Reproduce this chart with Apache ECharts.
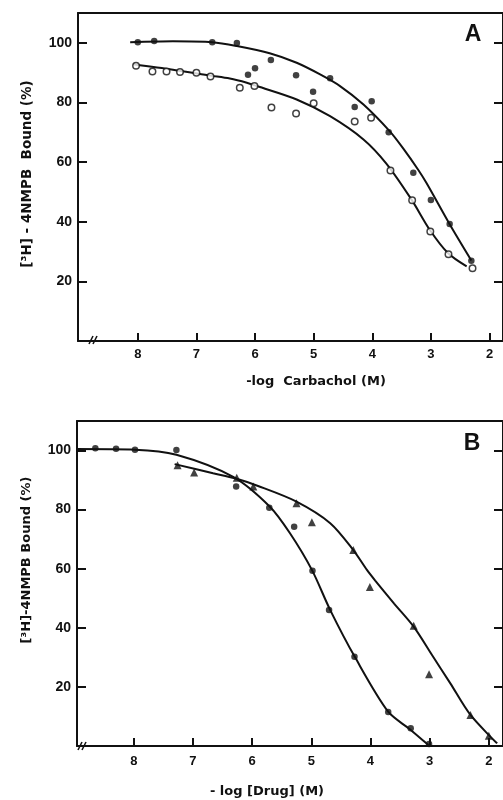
<!DOCTYPE html>
<html lang="en">
<head>
<meta charset="UTF-8">
<title>4NMPB binding</title>
<script src="https://cdn.jsdelivr.net/npm/echarts@6/dist/echarts.min.js"></script>
<style>html,body{margin:0;padding:0;background:#fff;}</style>
</head>
<body>
<div id="main" style="width:503px;height:800px;"></div>
<script>
// tick labels
var xTicks = [8, 7, 6, 5, 4, 3, 2];
var yTicks = [20, 40, 60, 80, 100];

// panel A : -log carbachol, [x, % bound]
var carbFilled = [[8.0,100.2],[7.72,100.6],[6.73,100.2],[6.31,99.9],[6.12,89.3],[6.0,91.5],[5.73,94.2],[5.30,89.1],[5.01,83.6],[4.72,88.1],[4.30,78.5],[4.01,80.4],[3.72,70.0],[3.30,56.4],[3.0,47.3],[2.68,39.2],[2.31,26.9]];
var carbOpen = [[8.03,92.3],[7.75,90.4],[7.51,90.4],[7.28,90.2],[7.0,90.0],[6.76,88.7],[6.26,84.9],[6.01,85.5],[5.72,78.3],[5.30,76.3],[5.0,79.7],[4.30,73.6],[4.02,74.9],[3.69,57.2],[3.32,47.2],[3.01,36.7],[2.70,29.1],[2.29,24.4]];
// hand drawn curves
var carbCurveFilled = [[8.13,100.2],[7.4,100.5],[6.73,100.2],[6.31,98.9],[5.75,96.5],[5.29,93.3],[4.89,89.4],[4.55,85.5],[4.15,79.3],[3.70,70.3],[3.47,64.5],[3.22,57.5],[3.07,52.8],[2.69,39.5],[2.31,27.0]];
var carbCurveOpen = [[8.08,92.8],[7.4,91.0],[6.76,89.0],[6.43,88.0],[6.14,86.6],[5.97,85.5],[5.29,81.0],[4.72,75.4],[4.15,67.6],[3.76,59.5],[3.33,47.4],[3.02,37.3],[2.71,29.5],[2.39,25.0]];

// panel B : -log [drug]
var drugCircle = [[8.65,100.8],[8.30,100.6],[7.98,100.3],[7.28,100.2],[6.27,87.8],[5.71,80.6],[5.29,74.2],[4.98,59.3],[4.70,46.0],[4.27,30.2],[3.70,11.5],[3.32,6.0],[3.01,0.7]];
var drugTriangle = [[7.26,95.0],[6.98,92.6],[6.26,90.8],[5.98,87.8],[5.25,82.2],[4.99,75.7],[4.29,66.3],[4.01,53.8],[3.27,40.7],[3.01,24.3],[2.31,10.5],[2.0,3.5]];
var drugCurveCircle = [[8.97,100.5],[7.98,100.3],[7.28,98.6],[6.32,91.1],[5.70,81.0],[5.36,72.0],[4.99,59.6],[4.68,46.0],[4.26,30.0],[3.70,11.6],[3.33,5.6],[3.02,0.3]];
var drugCurveTriangle = [[7.31,95.4],[6.66,92.3],[6.29,90.6],[5.90,88.0],[5.25,82.7],[4.68,75.4],[4.29,66.3],[4.06,59.6],[3.92,56.0],[3.60,48.2],[3.27,40.4],[2.96,30.8],[2.65,21.2],[2.31,10.5],[1.86,0.9]];

var ink = '#111';
var numFont = '"Liberation Sans", Arial, sans-serif';
var titleFont = '"DejaVu Sans", sans-serif';

function bottomAxis(g, min, max, margin) {
    return {
        type: 'value', gridIndex: g, position: 'bottom', inverse: true, min: min, max: max,
        axisLine: {show: true, onZero: false, lineStyle: {color: ink, width: 2}},
        axisTick: {show: true, inside: true, length: 8, customValues: xTicks, lineStyle: {color: ink, width: 2}},
        axisLabel: {customValues: xTicks, margin: margin, color: ink, fontFamily: numFont, fontWeight: 'bold', fontSize: 13},
        splitLine: {show: false}
    };
}
function topAxis(g, min, max) {
    return {
        type: 'value', gridIndex: g, position: 'top', inverse: true, min: min, max: max,
        axisLine: {show: true, onZero: false, lineStyle: {color: ink, width: 2}},
        axisTick: {show: false}, axisLabel: {show: false}, splitLine: {show: false}
    };
}
function sideAxis(g, pos) {
    return {
        type: 'value', gridIndex: g, position: pos, min: 0, max: 110,
        axisLine: {show: true, onZero: false, lineStyle: {color: ink, width: 2}},
        axisTick: {show: true, inside: true, length: 9, customValues: yTicks, lineStyle: {color: ink, width: 2}},
        axisLabel: {show: pos === 'left', customValues: yTicks, margin: 6, color: ink, fontFamily: numFont, fontWeight: 'bold', fontSize: 14},
        splitLine: {show: false}
    };
}
function curve(x, y, d) {
    return {type: 'line', xAxisIndex: x, yAxisIndex: y, data: d, smooth: 0.3, showSymbol: false, silent: true,
        lineStyle: {color: ink, width: 2}, z: 2};
}
function dots(x, y, d, sym, size, fill) {
    return {type: 'scatter', xAxisIndex: x, yAxisIndex: y, data: d, symbol: sym, symbolSize: size, z: 3,
        itemStyle: {color: fill, borderColor: ink, borderWidth: fill === '#fff' ? 1.5 : 0}};
}
function breakMark(x, y) {
    return [
        {type: 'line', shape: {x1: x - 4, y1: y + 4, x2: x, y2: y - 4}, style: {stroke: ink, lineWidth: 1.5}},
        {type: 'line', shape: {x1: x, y1: y + 4, x2: x + 4, y2: y - 4}, style: {stroke: ink, lineWidth: 1.5}}
    ];
}

var chart = echarts.init(document.getElementById('main'));
chart.setOption({
    animation: false,
    backgroundColor: '#fff',
    grid: [
        {left: 78, right: 0, top: 13, height: 328},
        {left: 77, right: 0, top: 421, height: 325}
    ],
    xAxis: [bottomAxis(0, 1.77, 9.02, 7), topAxis(0, 1.77, 9.02), bottomAxis(1, 1.76, 8.96, 9), topAxis(1, 1.76, 8.96)],
    yAxis: [sideAxis(0, 'left'), sideAxis(0, 'right'), sideAxis(1, 'left'), sideAxis(1, 'right')],
    series: [
        curve(0, 0, carbCurveFilled),
        curve(0, 0, carbCurveOpen),
        dots(0, 0, carbFilled, 'circle', 6.5, ink),
        dots(0, 0, carbOpen, 'circle', 6.5, '#fff'),
        curve(2, 2, drugCurveCircle),
        curve(2, 2, drugCurveTriangle),
        dots(2, 2, drugCircle, 'circle', 6.5, ink),
        dots(2, 2, drugTriangle, 'triangle', 8, ink)
    ],
    graphic: [
        {type: 'text', x: 473, y: 35, style: {text: 'A', font: 'bold 23px ' + numFont, fill: ink, align: 'center', verticalAlign: 'middle'}},
        {type: 'text', x: 472, y: 444, style: {text: 'B', font: 'bold 23px ' + numFont, fill: ink, align: 'center', verticalAlign: 'middle'}},
        {type: 'text', x: 27, y: 174, rotation: Math.PI / 2, style: {text: '[³H] - 4NMPB  Bound (%)', font: 'bold 13.5px ' + titleFont, fill: ink, align: 'center', verticalAlign: 'middle'}},
        {type: 'text', x: 27, y: 560, rotation: Math.PI / 2, style: {text: '[³H]-4NMPB Bound (%)', font: 'bold 13px ' + titleFont, fill: ink, align: 'center', verticalAlign: 'middle'}},
        {type: 'text', x: 316, y: 382, style: {text: '-log  Carbachol (M)', font: 'bold 13px ' + titleFont, fill: ink, align: 'center', verticalAlign: 'middle'}},
        {type: 'text', x: 267, y: 792, style: {text: '- log [Drug] (M)', font: 'bold 13px ' + titleFont, fill: ink, align: 'center', verticalAlign: 'middle'}}
    ].concat(breakMark(93, 340), breakMark(82, 746))
});
</script>
</body>
</html>
